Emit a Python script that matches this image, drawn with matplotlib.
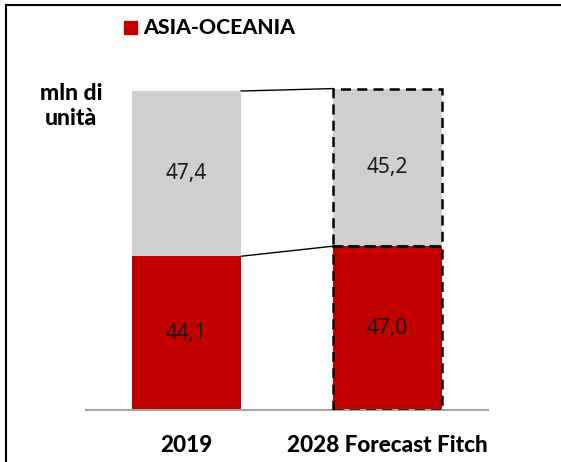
import numpy as np
import matplotlib.pyplot as plt
from matplotlib.patches import Rectangle
from matplotlib.lines import Line2D

"""
==================================================================================
"""

categories = ["2019", "2028 Forecast Fitch"]
asiaOceania = [44.1, 47.0]
restOfWorld = [47.4, 45.2]
legendLabel = "ASIA-OCEANIA"
yLabel = "mln di\nunità"

"""
==================================================================================
"""

redColor = "#c00000"
grayColor = "#d0cece"
boldFont = "Lato"
numberFont = "Noto Sans"

fig = plt.figure(figsize=(5.61, 4.62), dpi=100)
W, H = 561, 462

# Axes placed in pixel coordinates: baseline at y=410, left 86, right 488.
ax = fig.add_axes([86 / W, (H - 410) / H, 402 / W, 348.6 / H])
ax.set_xlim(-0.5, 1.5)
ax.set_ylim(0, 100)

x = np.arange(len(categories))
barWidth = 0.54

ax.bar(x, asiaOceania, width=barWidth, color=redColor, zorder=2)
ax.bar(x, restOfWorld, width=barWidth, bottom=asiaOceania, color=grayColor, zorder=2)

# Dashed outline for the forecast bar segments.
for bottom, height in [(0, asiaOceania[1]), (asiaOceania[1], restOfWorld[1])]:
    ax.add_patch(Rectangle((x[1] - barWidth / 2, bottom), barWidth, height,
                           fill=False, edgecolor="black", linewidth=1.8,
                           linestyle=(0, (4, 2.5)), zorder=3))

# Connecting lines between the bars.
totals = [a + b for a, b in zip(asiaOceania, restOfWorld)]
ax.plot([x[0] + barWidth / 2, x[1] - barWidth / 2], [totals[0], totals[1]],
        color="black", linewidth=1.0, zorder=1)
ax.plot([x[0] + barWidth / 2, x[1] - barWidth / 2], [asiaOceania[0], asiaOceania[1]],
        color="black", linewidth=1.0, zorder=1)

# Value labels.
for i in range(len(categories)):
    ax.text(x[i], asiaOceania[i] / 2, f"{asiaOceania[i]:.1f}".replace(".", ","),
            ha="center", va="center", fontsize=15, family=numberFont, color="#1a1a1a", zorder=4)
    ax.text(x[i], asiaOceania[i] + restOfWorld[i] / 2, f"{restOfWorld[i]:.1f}".replace(".", ","),
            ha="center", va="center", fontsize=15, family=numberFont, color="#1a1a1a", zorder=4)

for spine in ["top", "right", "left"]:
    ax.spines[spine].set_visible(False)
ax.spines["bottom"].set_color("#a6a6a6")
ax.spines["bottom"].set_linewidth(1.5)
ax.set_yticks([])
ax.set_xticks(x)
ax.set_xticklabels(categories, fontsize=16.2, fontweight="black", family=boldFont)
ax.tick_params(axis="x", length=0, pad=18)

# Y label and legend.
fig.text(71 / W, 1 - 106 / H, yLabel, ha="center", va="center", fontsize=16.5,
         fontweight="black", family=boldFont, linespacing=1.25)
fig.patches.append(Rectangle((124 / W, 1 - 34 / H), 13 / W, 13 / H,
                             transform=fig.transFigure, color=redColor, figure=fig))
fig.text(143 / W, 1 - 27.5 / H, legendLabel, ha="left", va="center", fontsize=15.3,
         fontweight="black", family=boldFont)

# Frame on the top and left edges.
fig.lines.append(Line2D([6 / W, 6 / W], [0, 1 - 5 / H], transform=fig.transFigure,
                        color="black", linewidth=1.5))
fig.lines.append(Line2D([6 / W, 1], [1 - 5 / H, 1 - 5 / H], transform=fig.transFigure,
                        color="black", linewidth=1.5))

fig.savefig("out.png", dpi=100)
